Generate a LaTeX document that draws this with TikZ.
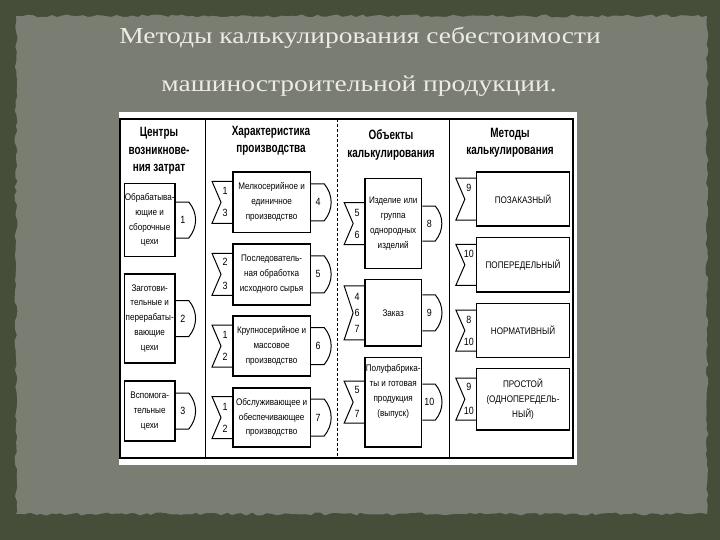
\documentclass[tikz,border=0pt]{standalone}
\usepackage{fontspec}
\setmainfont{Liberation Serif}
\newfontfamily\titlefont[FakeStretch=1.2]{Liberation Serif}
\newfontfamily\boxfont[FakeStretch=0.85]{Liberation Sans}
\newfontfamily\headfont[FakeStretch=0.74]{Liberation Sans}
\usetikzlibrary{calc,decorations.pathmorphing}

\definecolor{slidedark}{RGB}{70,78,58}
\definecolor{slidegrey}{RGB}{122,125,113}
\definecolor{titlewhite}{RGB}{236,236,228}

\tikzset{
  box/.style={draw,line width=1.6pt,fill=white,inner sep=0pt,align=center,font=\boxfont\fontsize{9.6}{15}\selectfont},
  head/.style={align=center,font=\headfont\bfseries\fontsize{13.5}{17.5}\selectfont},
  title/.style={text=titlewhite,font=\titlefont\fontsize{23}{28}\selectfont},
  tabline/.style={line width=1pt},
  tabnum/.style={inner sep=0pt,align=center,font=\boxfont\fontsize{10.5}{11}\selectfont}
}

\newcommand{\tabout}[3]{%
  \draw[tabline] ($(#1.east)+(0,#2)$) -- ++(13bp,0)
    to[bend left=40] ($(#1.east)+(13bp,-#2)$) -- ($(#1.east)+(0,-#2)$);
  \node (#1-o) at ($(#1.east)+(7bp,0)$) [tabnum] {#3};
}
\newcommand{\tabin}[3]{%
  \draw[tabline] ($(#1.west)+(0,#2)$) -- ++(-20bp,0) -- ($(#1.west)+(-11bp,0)$)
    -- ($(#1.west)+(-20bp,-#2)$) -- ($(#1.west)+(0,-#2)$);
  \node (#1-i) at ($(#1.west)+(-7bp,0)$) [tabnum] {#3};
}

\begin{document}
\begin{tikzpicture}
\pgfmathsetseed{7}
\useasboundingbox (0,0) rectangle (720bp,-540bp);
\fill[slidedark] (0,0) rectangle (720bp,-540bp);
\fill[slidegrey,decorate,decoration={random steps,segment length=5bp,amplitude=1.5bp}] (16bp,-16bp) rectangle (707bp,-514bp);

\node (t1) at (360bp,-38bp)[title] {Методы калькулирования себестоимости};
\node (t2) at (359bp,-86bp)[title] {машиностроительной продукции.};

\fill[white] (118.5bp,-111.9bp) rectangle (576.7bp,-464.9bp);
\draw[line width=1.8pt] (120.3bp,-118.8bp) rectangle (573bp,-458bp);
\draw[line width=1.1pt] (205.2bp,-118.8bp) -- (205.2bp,-458bp);
\draw[line width=0.9pt,densely dashed] (337.5bp,-118.8bp) -- (337.5bp,-458bp);
\draw[line width=0.8pt] (449bp,-118.8bp) -- (449bp,-458bp);

\node (h1) at (159bp,-151bp)[head] {Центры\\возникнове-\\ния затрат};
\node (h2) at (271bp,-141bp)[head] {Характеристика\\производства};
\node (h3) at (391bp,-145bp)[head] {Объекты\\калькулирования};
\node (h4) at (510bp,-143bp)[head] {Методы\\калькулирования};

\node (b1) at (149.7bp,-220bp)[box,minimum width=50.6bp,minimum height=73bp] {Обрабатыва-\\ющие и\\сборочные\\цехи};
\node (b2) at (149.7bp,-318.5bp)[box,minimum width=50.6bp,minimum height=89.5bp] {Заготови-\\тельные и\\перерабаты-\\вающие\\цехи};
\node (b3) at (149.7bp,-411bp)[box,minimum width=50.6bp,minimum height=59.6bp] {Вспомога-\\тельные\\цехи};
\tabout{b1}{18bp}{1}
\tabout{b2}{18bp}{2}
\tabout{b3}{18bp}{3}

\node (b4) at (271.6bp,-202.3bp)[box,minimum width=77.6bp,minimum height=60.2bp] {Мелкосерийное и\\единичное\\производство};
\node (b5) at (271.6bp,-274.3bp)[box,minimum width=77.6bp,minimum height=61bp] {Последователь-\\ная обработка\\исходного сырья};
\node (b6) at (271.6bp,-346bp)[box,minimum width=77.6bp,minimum height=60bp] {Крупносерийное и\\массовое\\производство};
\node (b7) at (271.6bp,-417.5bp)[box,minimum width=77.6bp,minimum height=59bp] {Обслуживающее и\\обеспечивающее\\производство};
\tabin{b4}{21bp}{1\\[11bp]3}
\tabin{b5}{21bp}{2\\[13bp]3}
\tabin{b6}{21bp}{1\\[11bp]2}
\tabin{b7}{21bp}{1\\[11bp]2}
\tabout{b4}{18.5bp}{4}
\tabout{b5}{18.5bp}{5}
\tabout{b6}{18.5bp}{6}
\tabout{b7}{18.5bp}{7}

\node (b8) at (393.2bp,-223.5bp)[box,minimum width=56.5bp,minimum height=90.2bp] {Изделие или\\группа\\однородных\\изделий};
\node (b9) at (393.2bp,-312.8bp)[box,minimum width=56.5bp,minimum height=66.4bp] {Заказ};
\node (b10) at (393.2bp,-402.2bp)[box,minimum width=56.5bp,minimum height=89.6bp] {Полуфабрика-\\ты и готовая\\продукция\\(выпуск)\\[9bp]~};
\tabin{b8}{21bp}{5\\[11bp]6}
\tabin{b9}{27bp}{4\\[5bp]6\\[5bp]7}
\tabin{b10}{21bp}{5\\[13bp]7}
\tabout{b8}{17.5bp}{8}
\tabout{b9}{18bp}{9}
\tabout{b10}{18bp}{10}

\node (m1) at (523bp,-199.2bp)[box,minimum width=92.7bp,minimum height=54bp] {ПОЗАКАЗНЫЙ};
\node (m2) at (523bp,-264.8bp)[box,minimum width=92.7bp,minimum height=54.4bp] {ПОПЕРЕДЕЛЬНЫЙ};
\node (m3) at (523bp,-330.5bp)[box,minimum width=92.7bp,minimum height=53.7bp] {НОРМАТИВНЫЙ};
\node (m4) at (523bp,-399.2bp)[box,minimum width=92.7bp,minimum height=61.3bp] {ПРОСТОЙ\\(ОДНОПЕРЕДЕЛЬ-\\НЫЙ)};
\tabin{m1}{21bp}{9\\[11bp]~}
\tabin{m2}{20.5bp}{10\\[11bp]~}
\tabin{m3}{20.5bp}{8\\[11bp]10}
\tabin{m4}{21bp}{9\\[13bp]10}
\end{tikzpicture}
\end{document}
